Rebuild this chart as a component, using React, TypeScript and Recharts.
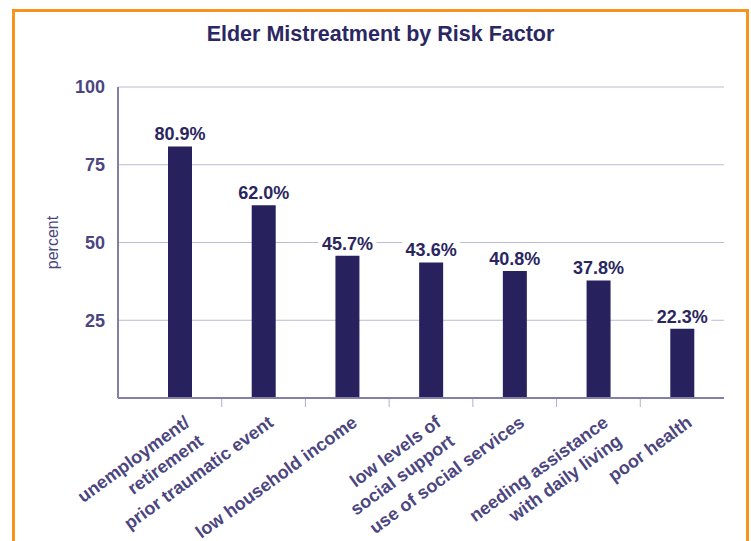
import React from 'react';
import { BarChart, Bar, XAxis, YAxis, CartesianGrid, LabelList } from 'recharts';

const categories = [
  'unemployment/\nretirement',
  'prior traumatic event',
  'low household income',
  'low levels of\nsocial support',
  'use of social services',
  'needing assistance\nwith daily living',
  'poor health',
];
const percents = [80.9, 62.0, 45.7, 43.6, 40.8, 37.8, 22.3];
const yTicks = [0, 25, 50, 75, 100];

const chartData = categories.map((name, i) => ({ name, value: percents[i] }));

const FONT = '"Liberation Sans", Arial, sans-serif';
const AXIS_TEXT = '#4b4680';
const DARK = '#27225e';
// plot geometry (used for the between-category tick marks)
const PLOT_LEFT = 118;
const PLOT_RIGHT = 724;
const PAD_LEFT = 20;
const BAND = (PLOT_RIGHT - PLOT_LEFT - PAD_LEFT) / categories.length;

function CategoryTick(props: any) {
  const { x, y, payload, index } = props;
  const lines = String(payload.value).split('\n');
  return (
    <g>
      {index < categories.length - 1 && (
        <line x1={x + BAND / 2} x2={x + BAND / 2} y1={y + 1} y2={y + 9} stroke="#b3b0c9" strokeWidth={1} />
      )}
      <text
        transform={`translate(${x + 11},${y + 27}) rotate(-36)`}
        textAnchor="end"
        fill={AXIS_TEXT}
        fontSize={18}
        fontWeight={700}
        fontFamily={FONT}
      >
        {lines.map((l, i) => (
          <tspan key={i} x={0} dy={i === 0 ? 0 : 23}>
            {l}
          </tspan>
        ))}
      </text>
    </g>
  );
}

function ValueLabel(props: any) {
  const { x, y, width, value } = props;
  const cx = x + width / 2;
  return (
    <g>
      <rect x={cx - 29} y={y - 21} width={58} height={15} fill="#fff" />
      <text x={cx} y={y - 6} textAnchor="middle" fill="#2a2660" fontSize={18} fontWeight={700} fontFamily={FONT}>
        {Number(value).toFixed(1)}%
      </text>
    </g>
  );
}

export default function App() {
  return (
    <div style={{ position: 'fixed', left: 0, top: 0, width: 751, height: 541, overflow: 'hidden', background: '#fff' }}>
      <div
        style={{
          position: 'absolute',
          left: 12,
          top: 9,
          width: 737,
          height: 600,
          boxSizing: 'border-box',
          border: '3px solid #f7941d',
        }}
      />
      <div
        style={{
          position: 'absolute',
          left: 12,
          width: 737,
          top: 22,
          textAlign: 'center',
          fontFamily: FONT,
          fontWeight: 700,
          fontSize: 21.5,
          color: '#2b2762',
        }}
      >
        Elder Mistreatment by Risk Factor
      </div>
      <div style={{ position: 'absolute', left: 0, top: 0 }}>
        <BarChart
          width={751}
          height={541}
          data={chartData}
          margin={{ top: 87, right: 751 - PLOT_RIGHT, left: PLOT_LEFT - 60, bottom: 23 }}
          barSize={24}
        >
          <CartesianGrid vertical={false} stroke="#bcbad4" strokeWidth={1} />
          <XAxis
            dataKey="name"
            interval={0}
            height={120}
            padding={{ left: PAD_LEFT, right: 0 }}
            axisLine={{ stroke: '#837fa6', strokeWidth: 2 }}
            tickLine={false}
            tickSize={0}
            tickMargin={0}
            tick={<CategoryTick />}
          />
          <YAxis
            width={60}
            domain={[0, 100]}
            ticks={yTicks}
            interval={0}
            tickFormatter={(v: number) => (v === 0 ? '' : String(v))}
            axisLine={{ stroke: '#837fa6', strokeWidth: 2 }}
            tickLine={false}
            tickSize={0}
            tickMargin={13}
            tick={{ fill: AXIS_TEXT, fontSize: 18, fontWeight: 700, fontFamily: FONT }}
            label={{
              value: 'percent',
              angle: -90,
              position: 'insideLeft',
              offset: -6,
              style: { fill: AXIS_TEXT, fontSize: 16, fontFamily: FONT, textAnchor: 'middle' },
            }}
          />
          <Bar dataKey="value" fill={DARK} isAnimationActive={false}>
            <LabelList dataKey="value" content={<ValueLabel />} />
          </Bar>
        </BarChart>
      </div>
    </div>
  );
}
